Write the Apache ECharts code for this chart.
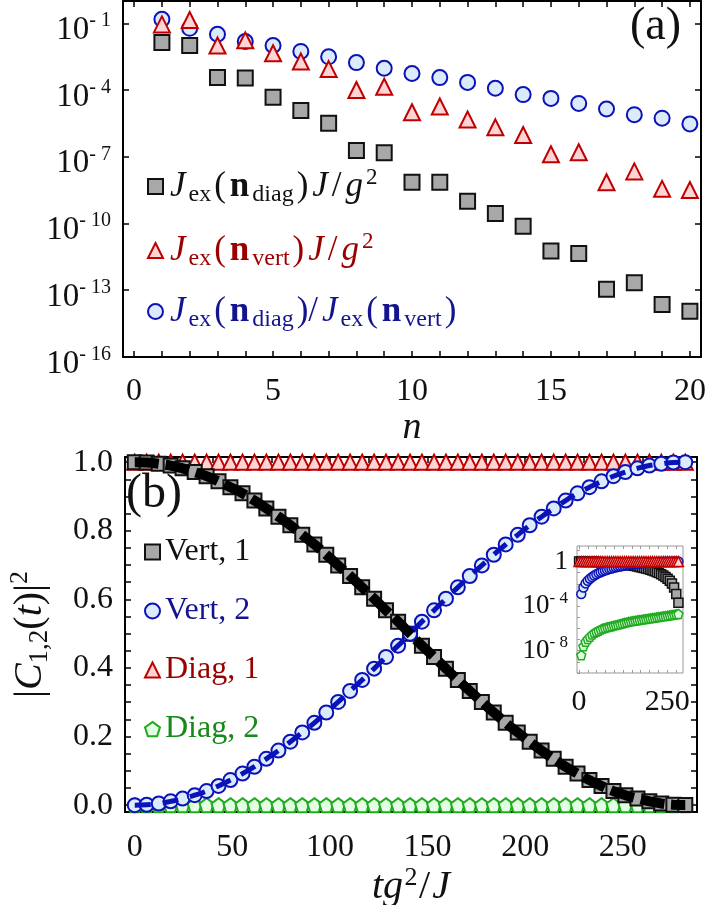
<!DOCTYPE html>
<html>
<head>
<meta charset="utf-8">
<script src="https://cdn.jsdelivr.net/npm/echarts@6/dist/echarts.min.js"></script>
<style>
html, body { margin: 0; padding: 0; background: #fff; }
#chart { width: 706px; height: 905px; }
</style>
</head>
<body>
<div id="chart"></div>
<script>
// ---- panel (a): couplings against n ----
const nValues = [1, 2, 3, 4, 5, 6, 7, 8, 9, 10, 11, 12, 13, 14, 15, 16, 17, 18, 19, 20];
const jDiag = [1.35e-2, 1.0e-2, 3.6e-4, 3.5e-4, 4.7e-5, 1.2e-5, 3.2e-6, 1.9e-7, 1.5e-7, 7.1e-9,
               7.1e-9, 1.0e-9, 2.8e-10, 7.6e-11, 5.8e-12, 4.5e-12, 1.1e-13, 2.2e-13, 2.3e-14, 1.15e-14];
const jVert = [8.9e-2, 1.4e-1, 1.0e-2, 1.7e-2, 4.5e-3, 1.9e-3, 8.7e-4, 1.0e-4, 1.4e-4, 1.0e-5,
               1.8e-5, 4.7e-6, 2.1e-6, 9.5e-7, 1.3e-7, 1.6e-7, 7.1e-9, 2.2e-8, 3.6e-9, 3.2e-9];
const jRatio = [1.5e-1, 5.9e-2, 3.2e-2, 1.5e-2, 1.0e-2, 5.4e-3, 3.1e-3, 1.7e-3, 9.5e-4, 5.5e-4,
                3.6e-4, 2.2e-4, 1.2e-4, 6.2e-5, 4.2e-5, 2.5e-5, 1.4e-5, 7.8e-6, 5.4e-6, 3.0e-6];
const nTicks = [0, 1, 2, 3, 4, 5, 6, 7, 8, 9, 10, 11, 12, 13, 14, 15, 16, 17, 18, 19, 20];
const nLabels = [0, 5, 10, 15, 20];
const logTicksA = [1e-16, 1e-13, 1e-10, 1e-7, 1e-4, 1e-1];

// ---- panel (b): populations against time ----
const tValues = [0, 6.1, 12.3, 18.4, 24.5, 30.7, 36.8, 42.9, 49.0, 55.2, 61.3, 67.4, 73.6, 79.7, 85.8, 92.0,
                 98.1, 104.2, 110.3, 116.5, 122.6, 128.7, 134.9, 141.0, 147.1, 153.3, 159.4, 165.5, 171.6,
                 177.8, 183.9, 190.0, 196.2, 202.3, 208.4, 214.6, 220.7, 226.8, 232.9, 239.1, 245.2, 251.3,
                 257.5, 263.6, 269.7, 275.9, 282.0];
const vert1 = [1.000, 0.999, 0.995, 0.990, 0.982, 0.971, 0.959, 0.944, 0.927, 0.909, 0.888, 0.865, 0.841,
               0.816, 0.788, 0.760, 0.730, 0.699, 0.668, 0.635, 0.602, 0.568, 0.535, 0.500, 0.465, 0.432,
               0.398, 0.365, 0.333, 0.301, 0.270, 0.240, 0.212, 0.185, 0.159, 0.135, 0.112, 0.092, 0.073,
               0.056, 0.041, 0.029, 0.019, 0.011, 0.0047, 0.0012, 0.0002];
const vert2 = [0, 0.0012, 0.0047, 0.011, 0.019, 0.029, 0.041, 0.056, 0.073, 0.092, 0.112, 0.135, 0.159,
               0.185, 0.212, 0.240, 0.270, 0.301, 0.333, 0.365, 0.398, 0.432, 0.465, 0.500, 0.535, 0.568,
               0.602, 0.635, 0.668, 0.699, 0.730, 0.760, 0.788, 0.816, 0.841, 0.865, 0.888, 0.909, 0.927,
               0.944, 0.959, 0.971, 0.982, 0.990, 0.995, 0.999, 1.000];
const diag1 = [1, 1, 1, 1, 1, 1, 1, 1, 1, 1, 1, 1, 1, 1, 1, 1, 1, 1, 1, 1, 1, 1, 1, 1,
               1, 1, 1, 1, 1, 1, 1, 1, 1, 1, 1, 1, 1, 1, 1, 1, 1, 1, 1, 1, 1, 1, 1];
const diag2 = [0, 4.0e-9, 2.5e-8, 6.3e-8, 1.1e-7, 1.8e-7, 2.8e-7, 4.0e-7, 5.0e-7, 6.3e-7, 7.9e-7, 1.0e-6,
               1.1e-6, 1.3e-6, 1.4e-6, 1.6e-6, 1.8e-6, 2.0e-6, 2.2e-6, 2.5e-6, 2.8e-6, 3.2e-6, 3.5e-6,
               4.0e-6, 4.3e-6, 4.7e-6, 5.0e-6, 5.4e-6, 5.8e-6, 6.2e-6, 6.6e-6, 7.1e-6, 7.6e-6, 8.1e-6,
               8.7e-6, 9.3e-6, 1.0e-5, 1.07e-5, 1.15e-5, 1.23e-5, 1.32e-5, 1.41e-5, 1.51e-5, 1.62e-5,
               1.74e-5, 1.86e-5, 2.0e-5];
const tTicks = [0, 10, 20, 30, 40, 50, 60, 70, 80, 90, 100, 110, 120, 130, 140, 150, 160, 170, 180, 190,
                200, 210, 220, 230, 240, 250, 260, 270, 280];
const tLabels = [0, 50, 100, 150, 200, 250];
const cTicks = [0, 0.05, 0.1, 0.15, 0.2, 0.25, 0.3, 0.35, 0.4, 0.45, 0.5, 0.55, 0.6, 0.65, 0.7, 0.75,
                0.8, 0.85, 0.9, 0.95, 1.0];
const cLabels = [0, 0.2, 0.4, 0.6, 0.8, 1.0];

// ---- inset of (b), log scale ----
const insetTicksX = [0, 25, 50, 75, 100, 125, 150, 175, 200, 225, 250, 275];
const insetLabelsX = [0, 250];
const insetTicksY = [1e-10, 1e-9, 1e-8, 1e-7, 1e-6, 1e-5, 1e-4, 1e-3, 1e-2, 1e-1, 1, 10];
const insetLabelsY = [1e-8, 1e-4, 1];

const SERIF = 'Liberation Serif';
const INK = '#111';
const RED = '#c00000', RED_FILL = '#ffd4d4', RED_TEXT = '#9a0000';
const BLUE = '#0a12b8', BLUE_FILL = '#dcebfc', BLUE_TEXT = '#141490';
const GRAY_FILL = '#a8a8a8';
const GREEN = '#22aa22', GREEN_FILL = '#e2ffe2', GREEN_TEXT = '#188818';
const PENTAGON = 'path://M0,-10 L9.51,-3.09 L5.88,8.09 L-5.88,8.09 L-9.51,-3.09 Z';

// rich styles for math-like text: italic, normal, bold, subscript, superscript
function mathRich(p, color, size, gap) {
    gap = gap || 0;
    const base = { color: color, fontFamily: SERIF, fontSize: size, lineHeight: size + 6, padding: [0, gap, 0, gap] };
    const r = {};
    r[p + 'i'] = Object.assign({}, base, { fontStyle: 'italic' });
    r[p + 'n'] = Object.assign({}, base);
    r[p + 'b'] = Object.assign({}, base, { fontWeight: 'bold' });
    r[p + 'sub'] = { color: color, fontFamily: SERIF, fontSize: Math.round(size * 0.68), padding: [0, gap / 2, 0, gap / 2],
                     lineHeight: Math.round(size * 0.39 + 6), verticalAlign: 'bottom' };
    r[p + 'sup'] = { color: color, fontFamily: SERIF, fontSize: Math.round(size * 0.65), padding: [0, gap / 2, 0, gap / 2],
                     lineHeight: Math.round(size * 0.47 + 6), verticalAlign: 'top' };
    return r;
}

function powRich(size) {
    return {
        b: { color: INK, fontFamily: SERIF, fontSize: size, lineHeight: size + 6 },
        s: { color: INK, fontFamily: SERIF, fontSize: Math.round(size * 0.62), lineHeight: 14, verticalAlign: 'top' }
    };
}
function powLabel(v) {
    const e = Math.round(Math.log10(v));
    return e === 0 ? '{b|1}' : '{b|10}{s|- ' + (-e) + '}';
}

const legendTextA = {
    jDiag: '{ki|J}{ksub|ex}{kn|(}{kb|n}{ksub|diag}{kn|)}{ki|J}{kn|/}{ki|g}{ksup|2}',
    jVert: '{ri|J}{rsub|ex}{rn|(}{rb|n}{rsub|vert}{rn|)}{ri|J}{rn|/}{ri|g}{rsup|2}',
    jRatio: '{ui|J}{usub|ex}{un|(}{ub|n}{usub|diag}{un|)/}{ui|J}{usub|ex}{un|(}{ub|n}{usub|vert}{un|)}'
};

const ptsA = vals => nValues.map((n, i) => [n, vals[i]]);
const ptsB = vals => tValues.map((t, i) => [t, vals[i]]);
const ptsLog = vals => ptsB(vals).filter(p => p[1] > 0);

const frameLine = { show: true, onZero: false, lineStyle: { color: '#000', width: 2 } };
const tickIn = (vals) => ({ show: true, inside: true, length: 6, customValues: vals,
                            lineStyle: { color: '#000', width: 1.5 } });
const labelFont = { fontFamily: SERIF, fontSize: 32, color: INK };
const noSplit = { show: false };

const options = {
    animation: false,
    backgroundColor: '#fff',
    grid: [
        { left: 123, top: 1, width: 578, height: 356, containLabel: false, outerBoundsMode: 'none' },
        { left: 125, top: 457, width: 572, height: 355, containLabel: false, outerBoundsMode: 'none' },
        { left: 577, top: 546, width: 106, height: 127, containLabel: false, outerBoundsMode: 'none',
          show: true, backgroundColor: '#fff', borderColor: '#999', borderWidth: 1, z: 10 }
    ],
    xAxis: [
        { gridIndex: 0, type: 'value', min: -0.4, max: 20.4, position: 'bottom',
          axisLine: frameLine, axisTick: tickIn(nTicks), splitLine: noSplit,
          axisLabel: Object.assign({ customValues: nLabels, margin: 19 }, labelFont),
          name: 'n', nameLocation: 'middle', nameGap: 42,
          nameTextStyle: { fontFamily: SERIF, fontStyle: 'italic', fontSize: 38, color: INK } },
        { gridIndex: 0, type: 'value', min: -0.4, max: 20.4, position: 'top',
          axisLine: frameLine, axisTick: tickIn(nTicks), splitLine: noSplit, axisLabel: { show: false } },
        { gridIndex: 1, type: 'value', min: -5, max: 288, position: 'bottom',
          axisLine: frameLine, axisTick: tickIn(tTicks), splitLine: noSplit,
          axisLabel: Object.assign({ customValues: tLabels, margin: 20 }, labelFont),
          name: '{ti|tg}{tsup|2}{tn|/}{ti|J}', nameLocation: 'middle', nameGap: 35,
          nameTextStyle: { rich: mathRich('t', INK, 40, 1) } },
        { gridIndex: 1, type: 'value', min: -5, max: 288, position: 'top',
          axisLine: frameLine, axisTick: tickIn(tTicks), splitLine: noSplit, axisLabel: { show: false } },
        { gridIndex: 2, type: 'value', min: -6, max: 295, position: 'bottom', z: 11,
          axisLine: { show: false, onZero: false }, splitLine: noSplit,
          axisTick: { inside: true, length: 3, customValues: insetTicksX, lineStyle: { color: '#999' } },
          axisLabel: { customValues: insetLabelsX, margin: 14, fontFamily: SERIF, fontSize: 30, color: INK } },
        { gridIndex: 2, type: 'value', min: -6, max: 295, position: 'top', z: 11,
          axisLine: { show: false, onZero: false }, splitLine: noSplit,
          axisTick: { inside: true, length: 3, customValues: insetTicksX, lineStyle: { color: '#999' } },
          axisLabel: { show: false } }
    ],
    yAxis: [
        { gridIndex: 0, type: 'log', logBase: 10, min: 1e-16, max: 1, position: 'left',
          axisLine: frameLine, axisTick: tickIn(logTicksA), splitLine: noSplit, minorTick: { show: false },
          axisLabel: { customValues: logTicksA, margin: 12, formatter: powLabel, rich: powRich(33),
                       padding: [14, 0, 0, 0] } },
        { gridIndex: 0, type: 'log', logBase: 10, min: 1e-16, max: 1, position: 'right',
          axisLine: frameLine, axisTick: tickIn(logTicksA), splitLine: noSplit, axisLabel: { show: false } },
        { gridIndex: 1, type: 'value', min: -0.02, max: 1.015, position: 'left',
          axisLine: frameLine, axisTick: tickIn(cTicks), splitLine: noSplit,
          axisLabel: Object.assign({ customValues: cLabels, margin: 12, formatter: v => v.toFixed(1) }, labelFont),
          name: '{cn||}{ci|C}{csub|1,2}{cn|(}{ci|t}{cn|)|}{csup|2}', nameLocation: 'middle', nameGap: 72,
          nameRotate: 90, nameTextStyle: { rich: mathRich('c', INK, 40) } },
        { gridIndex: 1, type: 'value', min: -0.02, max: 1.015, position: 'right',
          axisLine: frameLine, axisTick: tickIn(cTicks), splitLine: noSplit, axisLabel: { show: false } },
        { gridIndex: 2, type: 'log', logBase: 10, min: 1e-10, max: 25, position: 'left', z: 11,
          axisLine: { show: false, onZero: false }, splitLine: noSplit,
          axisTick: { inside: true, length: 3, customValues: insetTicksY, lineStyle: { color: '#999' } },
          axisLabel: { customValues: insetLabelsY, margin: 9, formatter: powLabel, rich: powRich(27) } }
    ],
    legend: [
        { orient: 'vertical', left: 147, top: 166, padding: 0, itemWidth: 15, itemHeight: 15, itemGap: 23,
          selectedMode: false, data: ['jDiag', 'jVert', 'jRatio'],
          formatter: name => legendTextA[name],
          textStyle: { rich: Object.assign({}, mathRich('k', INK, 35, 2), mathRich('r', RED_TEXT, 35, 2),
                                           mathRich('u', BLUE_TEXT, 35, 2)) } },
        { orient: 'vertical', left: 144, top: 535, padding: 0, itemWidth: 15, itemHeight: 15, itemGap: 25,
          selectedMode: false,
          textStyle: { fontFamily: SERIF, fontSize: 32, lineHeight: 34 },
          data: [
              { name: 'Vert, 1', textStyle: { color: INK } },
              { name: 'Vert, 2', textStyle: { color: BLUE_TEXT } },
              { name: 'Diag, 1', textStyle: { color: RED_TEXT } },
              { name: 'Diag, 2', textStyle: { color: GREEN_TEXT } }
          ] }
    ],
    graphic: [
        { type: 'text', left: 630, top: 4, z: 20,
          style: { text: '(a)', fontFamily: SERIF, fontSize: 46, fill: INK } },
        { type: 'text', left: 126, top: 470, z: 20,
          style: { text: '(b)', fontFamily: SERIF, fontSize: 48, fill: INK } }
    ],
    series: [
        // panel (a)
        { name: 'jDiag', type: 'scatter', xAxisIndex: 0, yAxisIndex: 0, symbol: 'rect', symbolSize: 15,
          itemStyle: { color: GRAY_FILL, borderColor: INK, borderWidth: 2, opacity: 1 }, data: ptsA(jDiag), z: 3 },
        { name: 'jRatio', type: 'scatter', xAxisIndex: 0, yAxisIndex: 0, symbol: 'circle', symbolSize: 15,
          itemStyle: { color: BLUE_FILL, borderColor: BLUE, borderWidth: 2, opacity: 1 }, data: ptsA(jRatio), z: 3 },
        { name: 'jVert', type: 'scatter', xAxisIndex: 0, yAxisIndex: 0, symbol: 'triangle', symbolSize: 16,
          itemStyle: { color: RED_FILL, borderColor: RED, borderWidth: 2, opacity: 1 }, data: ptsA(jVert), z: 4 },
        // panel (b)
        { name: 'Diag, 2', type: 'scatter', xAxisIndex: 2, yAxisIndex: 2, symbol: PENTAGON, symbolSize: 14,
          itemStyle: { color: GREEN_FILL, borderColor: GREEN, borderWidth: 2, opacity: 1 }, data: ptsB(diag2), z: 2 },
        { name: 'Diag, 1', type: 'scatter', xAxisIndex: 2, yAxisIndex: 2, symbol: 'triangle', symbolSize: 15,
          itemStyle: { color: RED_FILL, borderColor: RED, borderWidth: 2, opacity: 1 }, data: ptsB(diag1), z: 3 },
        { name: 'Vert, 1', type: 'scatter', xAxisIndex: 2, yAxisIndex: 2, symbol: 'rect', symbolSize: 14,
          itemStyle: { color: GRAY_FILL, borderColor: INK, borderWidth: 2, opacity: 1 }, data: ptsB(vert1), z: 4 },
        { name: 'Vert, 2', type: 'scatter', xAxisIndex: 2, yAxisIndex: 2, symbol: 'circle', symbolSize: 14,
          itemStyle: { color: BLUE_FILL, borderColor: BLUE, borderWidth: 2, opacity: 1 }, data: ptsB(vert2), z: 5 },
        { name: 'vert2Line', type: 'line', xAxisIndex: 2, yAxisIndex: 2, showSymbol: false, symbol: 'none',
          smooth: true, lineStyle: { color: BLUE, width: 5, type: [16, 12] }, data: ptsB(vert2), z: 6 },
        { name: 'vert1Line', type: 'line', xAxisIndex: 2, yAxisIndex: 2, showSymbol: false, symbol: 'none',
          smooth: true, lineStyle: { color: '#000', width: 10, type: [24, 7] }, data: ptsB(vert1), z: 7 },
        // inset
        { name: 'inDiag2', type: 'scatter', xAxisIndex: 4, yAxisIndex: 4, symbol: PENTAGON, symbolSize: 9,
          itemStyle: { color: GREEN_FILL, borderColor: GREEN, borderWidth: 1.5, opacity: 1 }, data: ptsLog(diag2), z: 12 },
        { name: 'inVert1', type: 'scatter', xAxisIndex: 4, yAxisIndex: 4, symbol: 'rect', symbolSize: 9,
          itemStyle: { color: GRAY_FILL, borderColor: INK, borderWidth: 1.5, opacity: 1 }, data: ptsLog(vert1), z: 13 },
        { name: 'inVert2', type: 'scatter', xAxisIndex: 4, yAxisIndex: 4, symbol: 'circle', symbolSize: 9,
          itemStyle: { color: BLUE_FILL, borderColor: BLUE, borderWidth: 1.5, opacity: 1 }, data: ptsLog(vert2), z: 14 },
        { name: 'inDiag1', type: 'scatter', xAxisIndex: 4, yAxisIndex: 4, symbol: 'triangle', symbolSize: 10,
          itemStyle: { color: RED_FILL, borderColor: RED, borderWidth: 1.5, opacity: 1 }, data: ptsLog(diag1), z: 15 }
    ]
};

const chart = echarts.init(document.getElementById('chart'));
chart.setOption(options);
window.addEventListener('resize', function () {
    chart && chart.resize();
});
</script>
</body>
</html>
